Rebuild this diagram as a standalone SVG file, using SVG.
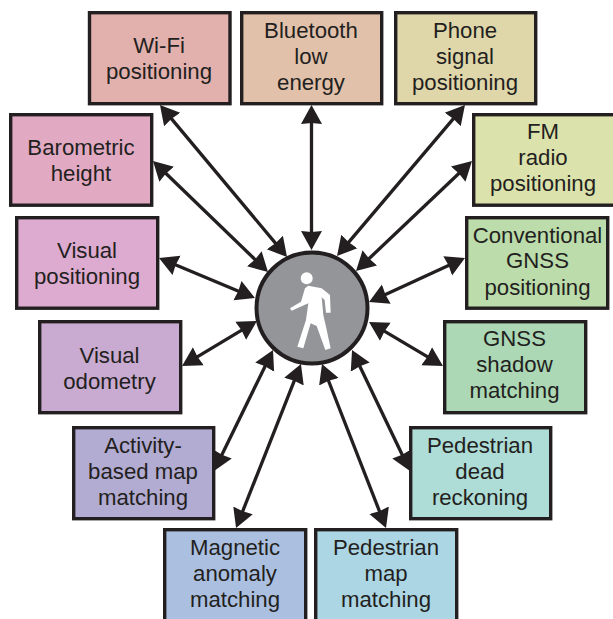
<svg xmlns="http://www.w3.org/2000/svg" width="613" height="619" viewBox="0 0 613 619">
<style>
.box{stroke:#231f20;stroke-width:3.4}
text{font-family:"Liberation Sans",Arial,sans-serif;font-size:22.200px;fill:#231f20;text-anchor:middle}
.c line{stroke:#231f20;stroke-width:3.300;marker-start:url(#a);marker-end:url(#a)}
</style>
<defs>
<marker id="a" markerUnits="userSpaceOnUse" markerWidth="24" markerHeight="24" viewBox="0 -12 24 24" refX="11" refY="0" orient="auto-start-reverse">
<path d="M19,0L0,-10.500L1,0L0,10.500Z" fill="#231f20"/>
</marker>
</defs>
<rect width="613" height="619" fill="#fff"/>
<g id="connectors" class="c">
<line x1="165.100" y1="111.100" x2="281.900" y2="250.900"/>
<line x1="311.500" y1="113" x2="311.500" y2="242"/>
<line x1="459.800" y1="111.100" x2="342.200" y2="249.900"/>
<line x1="158.750" y1="166.550" x2="262.250" y2="266.450"/>
<line x1="466.200" y1="166.500" x2="361.800" y2="265.500"/>
<line x1="166.400" y1="261.100" x2="247.600" y2="294.900"/>
<line x1="457.700" y1="261.300" x2="376.300" y2="298.700"/>
<line x1="188.900" y1="361.900" x2="250.100" y2="325.100"/>
<line x1="436.100" y1="361.900" x2="375.900" y2="326.100"/>
<line x1="217.500" y1="463.800" x2="269.500" y2="357.200"/>
<line x1="406.500" y1="463.800" x2="355.500" y2="357.200"/>
<line x1="239" y1="520.600" x2="298" y2="371.400"/>
<line x1="383.100" y1="520.500" x2="324.900" y2="371.500"/>
</g>
<g id="wifi"><rect class="box" x="89.500" y="12.700" width="140.500" height="91" fill="#e2b1ae"/><text x="159" y="53">Wi-Fi</text><text x="159" y="79">positioning</text></g>
<g id="bluetooth"><rect class="box" x="241.700" y="12.700" width="140" height="91" fill="#e2c1ab"/><text x="311" y="38">Bluetooth</text><text x="311" y="64">low</text><text x="311" y="90">energy</text></g>
<g id="phone"><rect class="box" x="395.700" y="12.700" width="140" height="91" fill="#dfd6aa"/><text x="465" y="38">Phone</text><text x="465" y="64">signal</text><text x="465" y="90">positioning</text></g>
<g id="barometric"><rect class="box" x="10.700" y="114.700" width="141" height="90.500" fill="#e2aac2"/><text x="81" y="155">Barometric</text><text x="81" y="181">height</text></g>
<g id="fm"><rect class="box" x="473.700" y="114.700" width="142" height="90.500" fill="#dbe2ab"/><text x="543" y="139">FM</text><text x="543" y="165">radio</text><text x="543" y="191">positioning</text></g>
<g id="visual-positioning"><rect class="box" x="16.700" y="217.700" width="141" height="90.500" fill="#dcabcf"/><text x="87" y="258">Visual</text><text x="87" y="284">positioning</text></g>
<g id="gnss"><rect class="box" x="466.700" y="217.700" width="141" height="90.500" fill="#bcdcab"/><text x="537.500" y="243">Conventional</text><text x="537.500" y="268">GNSS</text><text x="537.500" y="295">positioning</text></g>
<g id="visual-odometry"><rect class="box" x="39.700" y="321.700" width="141" height="91" fill="#c9aad0"/><text x="109.500" y="363">Visual</text><text x="109.500" y="389">odometry</text></g>
<g id="shadow"><rect class="box" x="444.700" y="321.700" width="141" height="91" fill="#acd8b6"/><text x="514.500" y="346">GNSS</text><text x="514.500" y="372">shadow</text><text x="514.500" y="398">matching</text></g>
<g id="activity"><rect class="box" x="73.700" y="427.700" width="140" height="91" fill="#b2abd2"/><text x="143" y="453">Activity-</text><text x="143" y="479">based map</text><text x="143" y="505">matching</text></g>
<g id="pdr"><rect class="box" x="410.700" y="427.700" width="140" height="91" fill="#aedcd6"/><text x="480" y="453">Pedestrian</text><text x="480" y="479">dead</text><text x="480" y="505">reckoning</text></g>
<g id="magnetic"><rect class="box" x="164.700" y="529.700" width="141" height="92" fill="#abc0e0"/><text x="235" y="555">Magnetic</text><text x="235" y="581">anomaly</text><text x="235" y="607">matching</text></g>
<g id="pmm"><rect class="box" x="315.700" y="529.700" width="141" height="92" fill="#acd6e4"/><text x="386" y="555">Pedestrian</text><text x="386" y="581">map</text><text x="386" y="607">matching</text></g>
<g id="pedestrian">
<circle cx="312" cy="308" r="55.500" fill="#939598" stroke="#231f20" stroke-width="4"/>
<circle cx="306.700" cy="278.300" r="6" fill="#fff"/>
<polygon fill="#fff" transform="translate(220 220) scale(.3333)" points="265,197 305,205 330,225 332,278 318,278 314,240 305,232 310,285 318,320 332,385 316,390 290,318 272,310 250,385 232,380 258,300 265,250 215,272 210,265 243,245 255,205"/>
</g>
</svg>
